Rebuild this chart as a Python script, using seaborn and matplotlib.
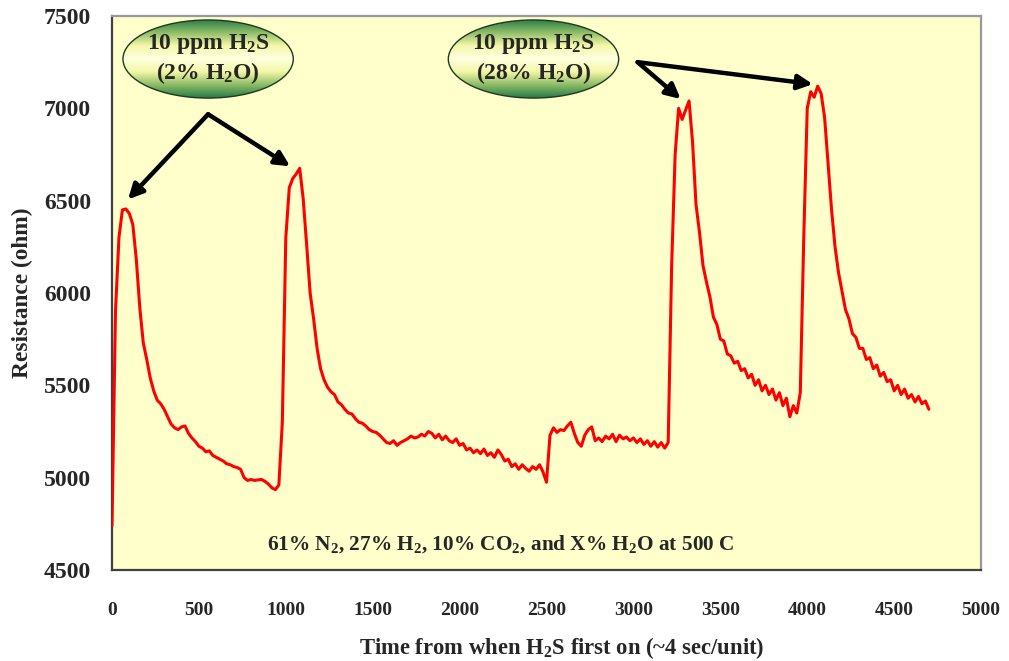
import numpy as np
import pandas as pd
import matplotlib
matplotlib.use("Agg")
import matplotlib.pyplot as plt
import seaborn as sns
from matplotlib.patches import Ellipse
from matplotlib.colors import LinearSegmentedColormap

# Sensor resistance trace, sampled every 20 time units
time_units = list(range(0, 4720, 20))
resistance = [
    # first pulse, 2% H2O
    4740, 5900, 6300, 6450, 6455, 6430, 6370, 6180, 5920, 5730,
    5640, 5540, 5470, 5420, 5400, 5370, 5330, 5290, 5270, 5260,
    5275, 5280, 5240, 5215, 5195, 5170, 5160, 5140, 5145, 5120,
    5110, 5100, 5090, 5075, 5070, 5060, 5055, 5045, 5000, 4985,
    4990, 4985, 4988, 4990, 4980, 4965, 4945, 4935, 4960,
    # second pulse, 2% H2O
    5300, 6300, 6570, 6620, 6645, 6675, 6510, 6260, 6000, 5860,
    5700, 5590, 5530, 5490, 5465, 5450, 5410, 5395, 5370, 5350,
    5345, 5320, 5300, 5295, 5280, 5260, 5250,
    # recovery
    5245, 5230, 5210, 5190, 5185, 5200, 5175, 5190, 5200, 5210,
    5225, 5215, 5220, 5235, 5225, 5250, 5240, 5215, 5235, 5205,
    5225, 5200, 5190, 5210, 5175, 5185, 5150, 5160, 5135, 5150,
    5130, 5155, 5120, 5135, 5110, 5150, 5125, 5090, 5100, 5060,
    5075, 5045, 5070, 5050, 5035, 5060, 5045, 5070, 5030, 4975,
    # switch to 28% H2O
    5230, 5270, 5245, 5260, 5255, 5280, 5300, 5240, 5190, 5170,
    5230, 5260, 5275, 5200, 5215, 5195, 5225, 5210, 5235, 5195,
    5230, 5210, 5220, 5200, 5215, 5190, 5210, 5180, 5200, 5170,
    5195, 5165, 5190, 5160, 5190,
    # third pulse, 28% H2O
    6150, 6750, 7000, 6940, 6990, 7040, 6820, 6480, 6330, 6150,
    6060, 5980, 5870, 5830, 5750, 5740, 5670, 5660, 5620, 5630,
    5580, 5590, 5540, 5560, 5500, 5530, 5470, 5500, 5450, 5480,
    5420, 5460, 5390, 5430, 5330, 5390, 5350, 5460,
    # fourth pulse, 28% H2O
    6300, 7000, 7090, 7060, 7120, 7080, 6950, 6700, 6450, 6250,
    6110, 6010, 5910, 5860, 5780, 5760, 5700, 5700, 5640, 5650,
    5590, 5610, 5550, 5570, 5520, 5530, 5470, 5500, 5450, 5480,
    5430, 5450, 5410, 5440, 5400, 5415, 5370,
]

x_ticks = [0, 500, 1000, 1500, 2000, 2500, 3000, 3500, 4000, 4500, 5000]
y_ticks = [4500, 5000, 5500, 6000, 6500, 7000, 7500]

bubble_lines = ["10 ppm H$_\\mathbf{2}$S\n(2% H$_\\mathbf{2}$O)",
                "10 ppm H$_\\mathbf{2}$S\n(28% H$_\\mathbf{2}$O)"]
bubble_centers = [(553, 7267), (2425, 7267)]
arrow_starts = [(553, 6968), (3024, 7250)]
arrow_targets = [[(92, 6507), (1025, 6686)], [(3272, 7050), (4032, 7131)]]

conditions = "61% N$_\\mathbf{2}$, 27% H$_\\mathbf{2}$, 10% CO$_\\mathbf{2}$, and X% H$_\\mathbf{2}$O at 500 C"

df = pd.DataFrame({"time": time_units, "resistance": resistance})

sns.set_style("white")
plt.rcParams["font.family"] = ["Liberation Serif", "DejaVu Serif"]
plt.rcParams["mathtext.fontset"] = "custom"
plt.rcParams["mathtext.rm"] = "Liberation Serif:bold"
plt.rcParams["mathtext.bf"] = "Liberation Serif:bold"
plt.rcParams["mathtext.it"] = "Liberation Serif:bold"

fig = plt.figure(figsize=(10.09, 6.61), dpi=100)
ax = fig.add_axes([0.111, 0.1377, 0.8613, 0.8381])
ax.set_facecolor("#FFFFCC")

sns.lineplot(data=df, x="time", y="resistance", ax=ax, color="#FF0000",
             linewidth=2.2, zorder=3)

ax.set_xlim(0, 5000)
ax.set_ylim(4500, 7500)
ax.set_xticks(x_ticks)
ax.set_yticks(y_ticks)
ax.set_xticklabels([str(v) for v in x_ticks], fontsize=14, fontweight="bold")
ax.set_yticklabels([str(v) for v in y_ticks], fontsize=17, fontweight="bold")
ax.tick_params(axis="x", direction="out", length=7, width=1, color="#333333", pad=16)
ax.tick_params(axis="y", direction="out", length=7, width=1, color="#333333", pad=8)

for side in ("left", "bottom"):
    ax.spines[side].set_color("#404040")
    ax.spines[side].set_linewidth(1.6)
for side in ("top", "right"):
    ax.spines[side].set_visible(True)
    ax.spines[side].set_color("#999999")
    ax.spines[side].set_linewidth(1.6)

ax.set_xlabel("Time from when H$_\\mathbf{2}$S first on (~4 sec/unit)",
              fontsize=16.3, fontweight="bold")
ax.xaxis.set_label_coords(0.518, -0.118)
ax.set_ylabel("Resistance (ohm)", fontsize=16.8, fontweight="bold", labelpad=8)

ax.text(2235, 4640, conditions, fontsize=15.3, fontweight="bold",
        ha="center", va="center", zorder=4)

# green-yellow shaded bubbles
bubble_cmap = LinearSegmentedColormap.from_list(
    "bubble", ["#267A4A", "#8DBB66", "#F4F7A8", "#FFFFE0", "#F4F7A8", "#8DBB66", "#267A4A"])
grad = np.linspace(0, 1, 256).reshape(-1, 1)
ew, eh = 980, 423
for (cx, cy), label in zip(bubble_centers, bubble_lines):
    ell = Ellipse((cx, cy), ew, eh, facecolor="none", edgecolor="#1E3A1E",
                  linewidth=1.0, zorder=6)
    ax.add_patch(ell)
    im = ax.imshow(grad, cmap=bubble_cmap, aspect="auto",
                   extent=(cx - ew / 2, cx + ew / 2, cy - eh / 2, cy + eh / 2),
                   zorder=5, interpolation="bilinear")
    im.set_clip_path(ell)
    ax.text(cx, cy, label, fontsize=17, fontweight="bold", ha="center",
            va="center", linespacing=1.25, zorder=7)

ax.set_xlim(0, 5000)
ax.set_ylim(4500, 7500)

for start, targets in zip(arrow_starts, arrow_targets):
    for tgt in targets:
        ax.annotate("", xy=tgt, xytext=start,
                    arrowprops=dict(arrowstyle="-|>", color="black", lw=3.2,
                                    mutation_scale=22, shrinkA=0, shrinkB=0),
                    zorder=8)

fig.savefig("out.png", dpi=100, facecolor="white")
